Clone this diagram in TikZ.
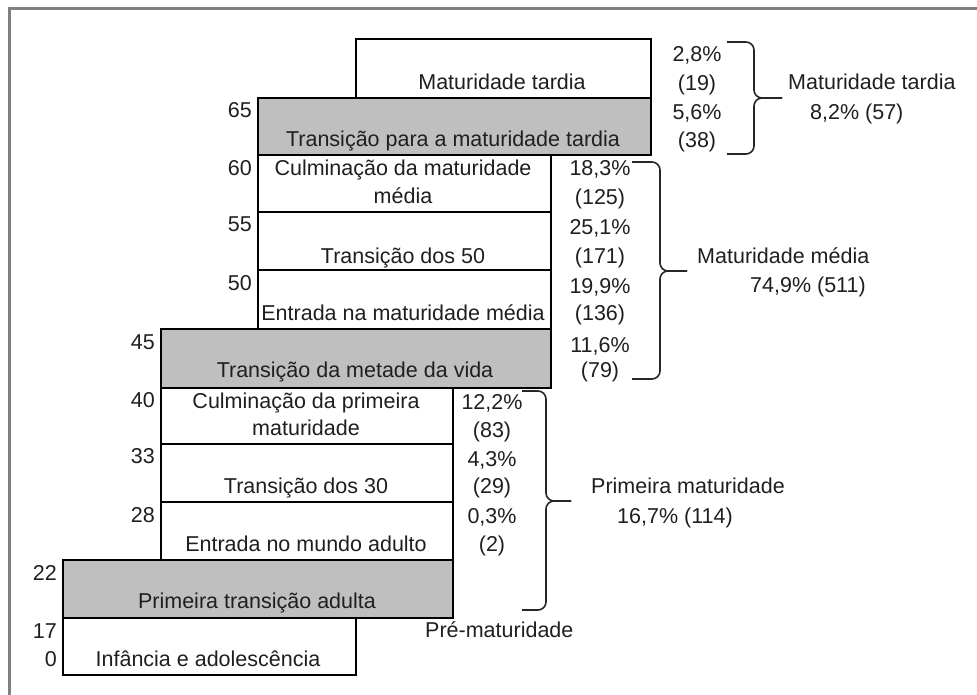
\documentclass[tikz,border=0pt]{standalone}
\usepackage{fontspec}
\setmainfont{Liberation Sans}
\begin{document}
\begin{tikzpicture}[x=1pt,y=-1pt,
  every node/.style={font=\fontsize{21.5}{28}\selectfont, text=black!88},
  box/.style={draw=black, line width=1.8pt, anchor=north west, inner sep=0pt},
  wbox/.style={box, fill=white},
  gbox/.style={box, fill=black!25},
  lbl/.style={anchor=base, inner sep=0pt},
  lbll/.style={anchor=base west, inner sep=0pt},
  age/.style={anchor=base east, inner sep=0pt},
  brace/.style={draw=black!85, line width=1.6pt, rounded corners=8pt},
  frame/.style={draw=black!50, line width=3pt}
]
\useasboundingbox (0,0) rectangle (977,695);
\coordinate (f1) at (977,9);
\coordinate (f2) at (9,9);
\coordinate (f3) at (9,695);
\draw[frame] (f1) -- (f2) -- (f3);

% boxes
\node[wbox, minimum width=295pt, minimum height=59pt] (mt) at (355,38) {};
\node[gbox, minimum width=393pt, minimum height=57pt] (tmt) at (257,97) {};
\node[wbox, minimum width=293pt, minimum height=57pt] (cmm) at (257,154) {};
\node[wbox, minimum width=293pt, minimum height=58pt] (t50) at (257,211) {};
\node[wbox, minimum width=293pt, minimum height=59pt] (emm) at (257,269) {};
\node[gbox, minimum width=390pt, minimum height=59pt] (tmv) at (160,328) {};
\node[wbox, minimum width=292pt, minimum height=56pt] (cpm) at (160,387) {};
\node[wbox, minimum width=292pt, minimum height=58pt] (t30) at (160,443) {};
\node[wbox, minimum width=292pt, minimum height=58pt] (ema) at (160,501) {};
\node[gbox, minimum width=390pt, minimum height=58pt] (pta) at (62,559) {};
\node[wbox, minimum width=293pt, minimum height=57pt] (ia) at (62,617) {};

% box labels
\node[lbl] (lmt) at (502,90) {Maturidade tardia};
\node[lbl] (ltmt) at (453,147) {Transição para a maturidade tardia};
\node[lbl] (lcmm1) at (403,176) {Culminação da maturidade};
\node[lbl] (lcmm2) at (403,204) {média};
\node[lbl] (lt50) at (403,263) {Transição dos 50};
\node[lbl] (lemm) at (403,320) {Entrada na maturidade média};
\node[lbl] (ltmv) at (355,377) {Transição da metade da vida};
\node[lbl] (lcpm1) at (306,408) {Culminação da primeira};
\node[lbl] (lcpm2) at (306,435) {maturidade};
\node[lbl] (lt30) at (306,493) {Transição dos 30};
\node[lbl] (lema) at (306,551) {Entrada no mundo adulto};
\node[lbl] (lpta) at (257,608) {Primeira transição adulta};
\node[lbl] (lia) at (208,666) {Infância e adolescência};

% ages
\node[age] (a65) at (252,118) {65};
\node[age] (a60) at (252,176) {60};
\node[age] (a55) at (252,232) {55};
\node[age] (a50) at (252,290) {50};
\node[age] (a45) at (155,349) {45};
\node[age] (a40) at (155,407) {40};
\node[age] (a33) at (155,463) {33};
\node[age] (a28) at (155,522) {28};
\node[age] (a22) at (57,580) {22};
\node[age] (a17) at (57,638) {17};
\node[age] (a0) at (57,666) {0};

% percentages
\node[lbl] (p1) at (697,62) {2,8\%};
\node[lbl] (p2) at (697,91) {(19)};
\node[lbl] (p3) at (697,120) {5,6\%};
\node[lbl] (p4) at (697,148) {(38)};
\node[lbl] (p5) at (600,176) {18,3\%};
\node[lbl] (p6) at (600,205) {(125)};
\node[lbl] (p7) at (600,235) {25,1\%};
\node[lbl] (p8) at (600,263) {(171)};
\node[lbl] (p9) at (600,293) {19,9\%};
\node[lbl] (p10) at (600,320) {(136)};
\node[lbl] (p11) at (600,352) {11,6\%};
\node[lbl] (p12) at (600,377) {(79)};
\node[lbl] (p13) at (492,409) {12,2\%};
\node[lbl] (p14) at (492,437) {(83)};
\node[lbl] (p15) at (492,466) {4,3\%};
\node[lbl] (p16) at (492,493) {(29)};
\node[lbl] (p17) at (492,523) {0,3\%};
\node[lbl] (p18) at (492,551) {(2)};

% braces
\coordinate (b1t) at (727,42);
\coordinate (b1a) at (754,42);
\coordinate (b1m) at (754,98);
\coordinate (b1p) at (782,98);
\coordinate (b1b) at (754,154);
\coordinate (b1e) at (727,154);
\draw[brace] (b1t) -- (b1a) -- (b1m) -- (b1p);
\draw[brace] (b1p) -- (b1m) -- (b1b) -- (b1e);

\coordinate (b2t) at (632,162);
\coordinate (b2a) at (660,162);
\coordinate (b2m) at (660,271);
\coordinate (b2p) at (687,271);
\coordinate (b2b) at (660,379);
\coordinate (b2e) at (632,379);
\draw[brace] (b2t) -- (b2a) -- (b2m) -- (b2p);
\draw[brace] (b2p) -- (b2m) -- (b2b) -- (b2e);

\coordinate (b3t) at (522,391);
\coordinate (b3a) at (546,391);
\coordinate (b3m) at (546,501);
\coordinate (b3p) at (571,501);
\coordinate (b3b) at (546,610);
\coordinate (b3e) at (522,610);
\draw[brace] (b3t) -- (b3a) -- (b3m) -- (b3p);
\draw[brace] (b3p) -- (b3m) -- (b3b) -- (b3e);

% group labels
\node[lbll] (g1) at (788,90) {Maturidade tardia};
\node[lbll] (g1b) at (810,120) {8,2\% (57)};
\node[lbll] (g2) at (697,263) {Maturidade média};
\node[lbll] (g2b) at (750,292) {74,9\% (511)};
\node[lbll] (g3) at (591,493) {Primeira maturidade};
\node[lbll] (g3b) at (617,523) {16,7\% (114)};
\node[lbll] (g4) at (425,637) {Pré-maturidade};
\end{tikzpicture}
\end{document}
